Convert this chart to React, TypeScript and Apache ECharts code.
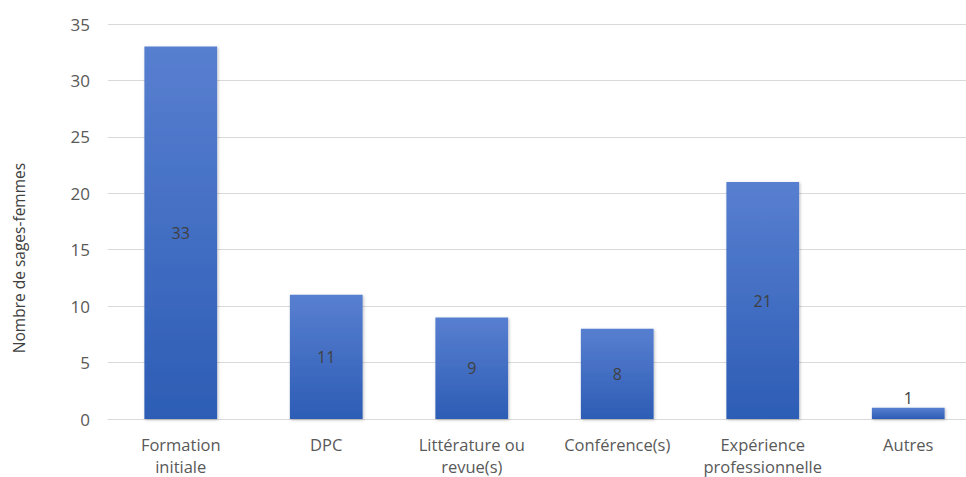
import React, { useEffect, useRef } from "react";
import * as echarts from "echarts";

const categories = [
  "Formation\ninitiale",
  "DPC",
  "Littérature ou\nrevue(s)",
  "Conférence(s)",
  "Expérience\nprofessionnelle",
  "Autres",
];
const values = [33, 11, 9, 8, 21, 1];
const yAxisName = "Nombre de sages-femmes";

export default function App() {
  const ref = useRef<HTMLDivElement>(null);
  useEffect(() => {
    if (!ref.current) return;
    const chart = echarts.init(ref.current, null, { renderer: "svg" });
    const font = "'Open Sans', 'Noto Sans', sans-serif";
    chart.setOption({
      animation: false,
      grid: { left: 108, right: 0, top: 24, bottom: 52, containLabel: false },
      graphic: [
        {
          type: "text",
          x: 19,
          y: 258,
          rotation: Math.PI / 2,
          style: {
            text: yAxisName,
            fill: "#404040",
            fontSize: 15.5,
            fontFamily: font,
            align: "center",
            verticalAlign: "middle",
          },
        },
      ],
      xAxis: {
        type: "category",
        data: categories,
        axisLine: { lineStyle: { color: "#d9d9d9", width: 1 } },
        axisTick: { show: false },
        axisLabel: {
          color: "#595959",
          fontSize: 16.5,
          fontFamily: font,
          lineHeight: 22,
          margin: 14,
          interval: 0,
        },
      },
      yAxis: {
        type: "value",
        min: 0,
        max: 35,
        interval: 5,
        axisLine: { show: false },
        axisTick: { show: false },
        splitLine: { lineStyle: { color: "#d9d9d9", width: 1 } },
        axisLabel: { color: "#595959", fontSize: 17, fontFamily: font, margin: 18 },
      },
      series: [
        {
          type: "bar",
          barWidth: "50%",
          data: values.map((v) => ({
            value: v,
            label: { position: v < 3 ? "top" : "inside" },
          })),
          itemStyle: {
            color: new echarts.graphic.LinearGradient(0, 0, 0, 1, [
              { offset: 0, color: "#587fd0" },
              { offset: 1, color: "#2d5db5" },
            ]),
            shadowColor: "rgba(0,0,0,0.25)",
            shadowBlur: 3,
            shadowOffsetX: 1,
            shadowOffsetY: 1,
          },
          label: {
            show: true,
            color: "#404040",
            fontSize: 16,
            fontFamily: font,
            distance: 2,
          },
        },
      ],
    });
    return () => chart.dispose();
  }, []);
  return (
    <div
      style={{
        position: "fixed",
        left: 0,
        top: 0,
        width: 966,
        height: 477,
        overflow: "hidden",
        background: "#fff",
      }}
    >
      <div ref={ref} style={{ width: 981, height: 477 }} />
    </div>
  );
}
